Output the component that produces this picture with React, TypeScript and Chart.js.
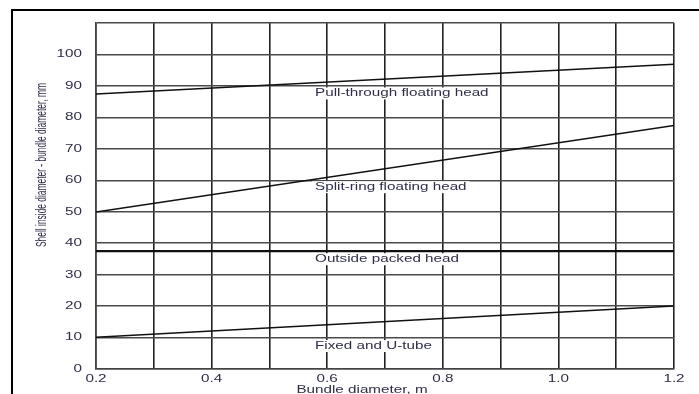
import React, { useEffect, useRef } from 'react';
import { Chart, registerables } from 'chart.js';

Chart.register(...registerables);

// ---- data ----
const bundleDiameter = [0.2, 1.2];
const pullThroughHead = [87.4, 96.9];
const splitRingHead = [49.9, 77.4];
const outsidePackedHead = [37.5, 37.5];
const fixedAndUTube = [10.1, 20.0];

const xTickValues = [0.2, 0.4, 0.6, 0.8, 1.0, 1.2];
const xTickLabels = ['0.2', '0.4', '0.6', '0.8', '1.0', '1.2'];
const yTickValues = [0, 10, 20, 30, 40, 50, 60, 70, 80, 90, 100];

const curveLabels = [
  'Pull-through floating head',
  'Split-ring floating head',
  'Outside packed head',
  'Fixed and U-tube',
];
const curveLabelX = [0.579, 0.579, 0.579, 0.579];
const curveLabelY = [87.6, 57.8, 34.9, 7.3];

const xTitle = 'Bundle diameter, m';
const yTitle = 'Shell inside diameter - bundle diameter, mm';

// ---- style ----
const FONT_SIZE = 10.5;
const FONT = `${FONT_SIZE}px "Liberation Sans", Arial, sans-serif`;
const STRETCH = 1.45;
const TEXT_COLOR = '#2e2e48';

function drawStretched(ctx: CanvasRenderingContext2D, text: string, px: number, py: number, align: CanvasTextAlign) {
  ctx.save();
  ctx.translate(px, py);
  ctx.scale(STRETCH, 1);
  ctx.textAlign = align;
  ctx.textBaseline = 'middle';
  ctx.fillText(text, 0, 0);
  ctx.restore();
}

const textPlugin = {
  id: 'textPlugin',
  afterDatasetsDraw(chart: any) {
    const { ctx, scales } = chart;
    const x = scales.x;
    const y = scales.y;
    ctx.save();
    ctx.font = FONT;
    ctx.fillStyle = TEXT_COLOR;

    // y tick labels
    yTickValues.forEach((v) => {
      drawStretched(ctx, String(v), x.left - 14, y.getPixelForValue(v), 'right');
    });
    // x tick labels
    xTickValues.forEach((v, i) => {
      drawStretched(ctx, xTickLabels[i], x.getPixelForValue(v), y.bottom + 10, 'center');
    });
    // x title
    drawStretched(ctx, xTitle, (x.left + x.right) / 2 - 23, y.bottom + 21, 'center');

    // y title (rotated, condensed along the text)
    const w = ctx.measureText(yTitle).width;
    const along = 164 / w;
    ctx.save();
    ctx.translate(42, (y.top + y.bottom) / 2 - 31);
    ctx.rotate(-Math.PI / 2);
    ctx.scale(along, STRETCH);
    ctx.textAlign = 'center';
    ctx.textBaseline = 'middle';
    ctx.fillText(yTitle, 0, 0);
    ctx.restore();

    // curve labels with white boxes
    curveLabels.forEach((t, i) => {
      const px = x.getPixelForValue(curveLabelX[i]);
      const py = y.getPixelForValue(curveLabelY[i]);
      const tw = ctx.measureText(t).width * STRETCH;
      ctx.fillStyle = '#ffffff';
      ctx.fillRect(px - 3, py - 6, tw + 6, 12);
      ctx.fillStyle = TEXT_COLOR;
      drawStretched(ctx, t, px, py, 'left');
    });
    ctx.restore();
  },
};

function toPoints(ys: number[]) {
  return bundleDiameter.map((xv, i) => ({ x: xv, y: ys[i] }));
}

export default function App() {
  const canvasRef = useRef<HTMLCanvasElement | null>(null);

  useEffect(() => {
    if (!canvasRef.current) return;
    const lineDs = (label: string, ys: number[], width: number) => ({
      label,
      data: toPoints(ys),
      borderColor: '#111111',
      borderWidth: width,
      pointRadius: 0,
      fill: false,
      tension: 0,
    });
    const chart = new Chart(canvasRef.current, {
      type: 'line',
      data: {
        datasets: [
          lineDs(curveLabels[0], pullThroughHead, 1.5),
          lineDs(curveLabels[1], splitRingHead, 1.5),
          lineDs(curveLabels[2], outsidePackedHead, 2.2),
          lineDs(curveLabels[3], fixedAndUTube, 1.5),
        ],
      },
      options: {
        responsive: false,
        animation: false,
        events: [],
        layout: { padding: { left: 0, top: 23, right: 25, bottom: 0 } },
        plugins: { legend: { display: false }, tooltip: { enabled: false } },
        scales: {
          x: {
            type: 'linear',
            min: 0.2,
            max: 1.2,
            ticks: { stepSize: 0.1, display: false },
            grid: { color: '#222222', lineWidth: 1.6, drawTicks: false },
            border: { color: '#444444', width: 1.6 },
            afterFit: (s: any) => {
              s.height = 25;
            },
          },
          y: {
            type: 'linear',
            min: 0,
            max: 110,
            ticks: { stepSize: 10, display: false },
            grid: { color: '#4a4a4a', lineWidth: 1.5, drawTicks: false },
            border: { color: '#444444', width: 1.6 },
            afterFit: (s: any) => {
              s.width = 96;
            },
          },
        },
      },
      plugins: [textPlugin],
    } as any);
    return () => chart.destroy();
  }, []);

  return (
    <div style={{ position: 'fixed', left: 0, top: 0, width: 699, height: 394, background: '#ffffff', overflow: 'hidden' }}>
      <div
        style={{
          position: 'absolute',
          left: 11,
          top: 9,
          width: 800,
          height: 500,
          borderTop: '2px solid #000',
          borderLeft: '2px solid #000',
        }}
      />
      <canvas ref={canvasRef} width={699} height={394} style={{ position: 'absolute', left: 0, top: 0 }} />
    </div>
  );
}
